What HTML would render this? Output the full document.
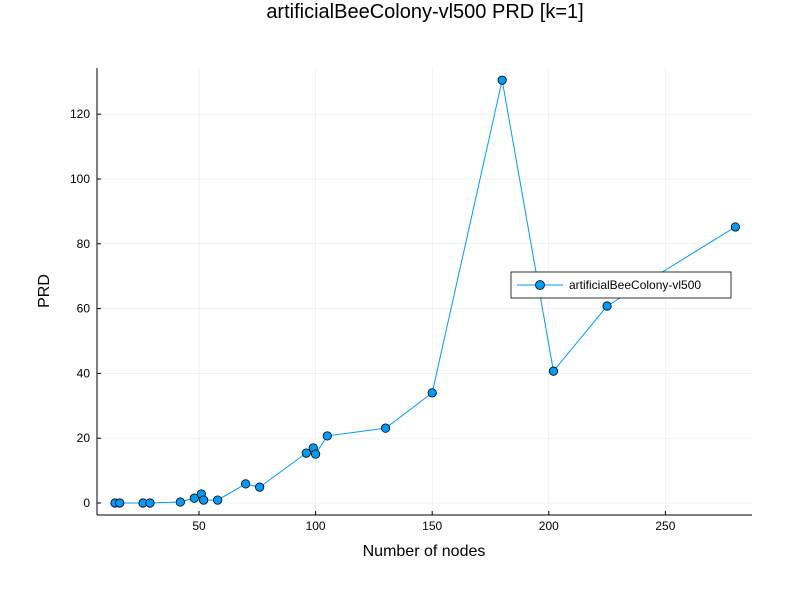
<!DOCTYPE html>
<html><head><meta charset="utf-8"><style>
body{margin:0;background:#fff;font-family:"Liberation Sans","DejaVu Sans",sans-serif}
</style></head><body>
<svg id="chart" width="800" height="600" xmlns="http://www.w3.org/2000/svg">
<rect width="800" height="600" fill="#fff"/>
<text x="425" y="18" text-anchor="middle" font-size="20" fill="#000">artificialBeeColony-vl500 PRD [k=1]</text>
<g id="grid"></g>
<g id="axes"></g>
<g id="series"></g>
<text x="424" y="556" text-anchor="middle" font-size="16">Number of nodes</text>
<text transform="translate(49,291) rotate(-90)" text-anchor="middle" font-size="16">PRD</text>
<g>
<rect x="511" y="272" width="220" height="26" fill="#fff" stroke="#000" stroke-width="0.8"/>
<line x1="517" y1="285" x2="563" y2="285" stroke="#009af9" stroke-width="1"/>
<circle cx="540" cy="285" r="4.5" fill="#009af9" stroke="#000" stroke-width="0.8"/>
<text x="569" y="289" font-size="12">artificialBeeColony-vl500</text>
</g>
</svg>
<script>
const xs=[14,16,26,29,42,48,51,52,58,70,76,96,99,100,105,130,150,180,202,225,280];
const ys=[0,0,0,0,0.3,1.5,2.8,0.9,0.9,5.9,4.9,15.4,17,15.1,20.7,23.1,34,130.5,40.7,60.8,85.2];
const xTicks=[50,100,150,200,250];
const yTicks=[0,20,40,60,80,100,120];
const L=97,R=752,T=68,B=515;
function sx(v){return 82.4+v*2.332;}
function sy(v){return 503-v*3.24;}
const NS="http://www.w3.org/2000/svg";
function mk(t,a,p){const e=document.createElementNS(NS,t);for(const k in a)e.setAttribute(k,a[k]);p.appendChild(e);return e;}
const g=document.getElementById('grid'),ax=document.getElementById('axes'),s=document.getElementById('series');
xTicks.forEach(v=>{const x=sx(v);
const l=mk('line',{x1:x,x2:x,y1:T,y2:B,stroke:'#000','stroke-opacity':0.1,'stroke-width':0.5},g);

mk('line',{x1:x,x2:x,y1:B,y2:B-4,stroke:'#000'},ax);
const t=mk('text',{x:x,y:B+15,'text-anchor':'middle','font-size':12},ax);t.textContent=v;
});
yTicks.forEach(v=>{const y=sy(v);
const l=mk('line',{x1:L,x2:R,y1:y,y2:y,stroke:'#000','stroke-opacity':0.1,'stroke-width':0.5},g);

mk('line',{x1:L,x2:L+4,y1:y,y2:y,stroke:'#000'},ax);
const t=mk('text',{x:L-7,y:y+4,'text-anchor':'end','font-size':12},ax);t.textContent=v;
});
const xa=mk('line',{x1:L,x2:R,y1:B,y2:B,stroke:'#000'},ax);

const ya=mk('line',{x1:L,x2:L,y1:T,y2:B,stroke:'#000'},ax);

const pl=mk('polyline',{points:xs.map((x,i)=>sx(x)+','+sy(ys[i])).join(' '),fill:'none',stroke:'#009af9','stroke-width':1},s);

xs.forEach((x,i)=>{const c=mk('circle',{cx:sx(x),cy:sy(ys[i]),r:4.2,fill:'#009af9',stroke:'#000','stroke-width':0.8},s);
});
</script>
</body></html>
